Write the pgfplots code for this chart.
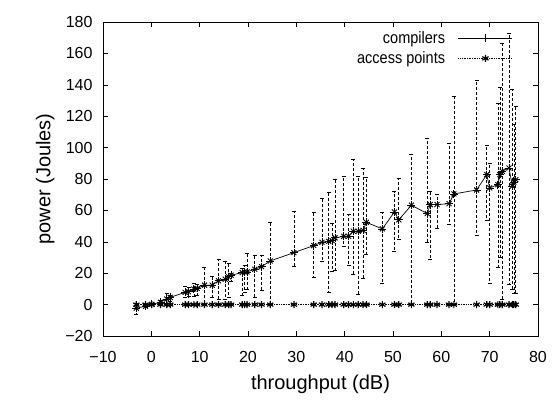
\documentclass[border=0pt]{standalone}
\usepackage{pgfplots}
\pgfplotsset{compat=1.18}
\usepackage{pgfplotstable}
\usepackage{graphicx}
\usepackage{fontspec}
\setmainfont{Liberation Sans}

\pgfplotstableread{
x y lo hi
-3.1 -2.3 -6 1
-1.2 -1 -2 0
0.1 0.2 -0.5 1
1.9 1.5 0.5 2.5
3.2 3.6 1 7
3.9 4.6 2 6
7.0 7.8 4.6 11.6
7.7 8.2 5 11
8.8 9.9 5.5 13.7
9.5 10.3 6 13
11.0 12.4 0.4 23.6
12.6 12.4 4.6 17.9
13.9 15.2 3.6 28.8
15.3 16.2 3.6 27.4
16.0 17.7 4.6 26
16.5 18.7 15 20
18.8 20.4 6.1 22.9
19.3 20.8 8 25
19.8 20.8 9.9 32.6
21.4 22.5 4.6 31.4
22.8 24.2 8.8 31.4
24.6 27.8 0.4 52.4
29.5 33.1 24.6 59.4
33.6 37.6 17.6 59
35.3 39.7 27.6 68
36.7 40.3 7.6 71.5
37.4 40.8 21 52
38.0 42.5 22 80
39.8 43.5 37 82
40.8 43.5 24.8 57.8
41.8 46.7 19 92.8
42.8 46.7 6.4 81.7
43.8 47.3 17 87
44.5 52.4 31.8 81
47.8 48.2 13.4 58.6
50.3 59 34 72
51.2 54 41.4 80.7
53.8 63.3 0 96
57.1 58 40 106
57.7 63.7 28.7 72
59.1 63.7 48.8 70
61.6 64.3 51 102.5
62.6 70.5 0 132.7
67.3 73 44 143
69.4 82.8 54 101.5
70.0 74.3 13.8 90
71.7 76.4 23.6 128.5
72.1 82.8 30 138.7
72.6 84.9 3.2 166.6
74.0 87 12.7 173
74.7 75.4 10 137
75.0 78 7 114.6
75.4 79.6 7.5 126
}\comp

\pgfplotstableread{
x y
-3.1 0
-1.2 0
0.1 0
1.9 0
3.2 0
3.9 0
7.0 0
7.7 0
8.8 0
9.5 0
11.0 0
12.6 0
13.9 0
15.3 0
16.0 0
16.5 0
18.8 0
19.3 0
19.8 0
21.4 0
22.8 0
24.6 0
29.5 0
33.6 0
35.3 0
36.7 0
37.4 0
38.0 0
39.8 0
40.8 0
41.8 0
42.8 0
43.8 0
44.5 0
47.8 0
50.3 0
51.2 0
53.8 0
57.1 0
57.7 0
59.1 0
61.6 0
62.6 0
67.3 0
69.4 0
70.0 0
71.7 0
72.1 0
72.6 0
74.0 0
74.7 0
75.0 0
75.4 0
}\ap

\begin{document}
\begin{tikzpicture}
\begin{axis}[
  at={(0,0)}, anchor=south west,
  scale only axis, width=435pt, height=314pt,
  xmin=-10, xmax=80, ymin=-20, ymax=180,
  xtick={-10,0,...,80}, ytick={-20,0,...,180},
  xticklabels={−10,0,10,20,30,40,50,60,70,80},
  yticklabels={−20,0,20,40,60,80,100,120,140,160,180},
  axis line style={line width=0.8pt},
  tick style={black, line width=0.6pt},
  major tick length=5pt,
  tick align=inside,
  ticklabel style={font=\fontsize{16}{18}\selectfont},
  xticklabel style={yshift=-12pt},
  yticklabel style={xshift=-7pt},
  xlabel={\fontsize{20}{22}\selectfont throughput (dB)},
  ylabel={\fontsize{20}{22}\selectfont power (Joules)},
  xlabel style={yshift=-5pt},
  ylabel style={yshift=4pt},
  legend plot pos=right,
  legend cell align=right,
  legend style={draw=none, fill=none, at={(1,1)}, anchor=north east,
    xshift=-22pt, yshift=-5pt, font=\fontsize{16.5}{18}\selectfont,
    row sep=3pt, column sep=11pt},
  legend image code/.code={
    \draw[mark repeat=2, mark phase=2, #1] plot coordinates {(0pt,0pt) (27pt,0pt) (54pt,0pt)};
  },
]
\addplot[black, line width=0.7pt, mark=+, mark size=4pt,
  mark options={solid, line width=0.8pt},
  error bars/.cd, y dir=both, y explicit,
  error bar style={black, densely dashed, line width=0.6pt},
  error mark options={black, solid, rotate=90, mark size=2pt, line width=0.6pt}]
  table[x=x, y=y, y error plus expr=\thisrow{hi}-\thisrow{y}, y error minus expr=\thisrow{y}-\thisrow{lo}] {\comp};
\addlegendentry{\scalebox{0.88}[1]{compilers}}
\addplot[black, densely dotted, line width=0.7pt, mark=asterisk, mark size=3.6pt,
  mark options={solid, line width=1.2pt}]
  table[x=x, y=y] {\ap};
\addlegendentry{\scalebox{0.88}[1]{access points}}
\addplot[forget plot, black, only marks, mark=x, mark size=3.5pt, mark options={line width=0.9pt}]
  table[x=x, y=y] {\comp};
\end{axis}
\pgfresetboundingbox
\path[use as bounding box] (-103pt,-63pt) rectangle (451pt,336pt);
\end{tikzpicture}
\end{document}
